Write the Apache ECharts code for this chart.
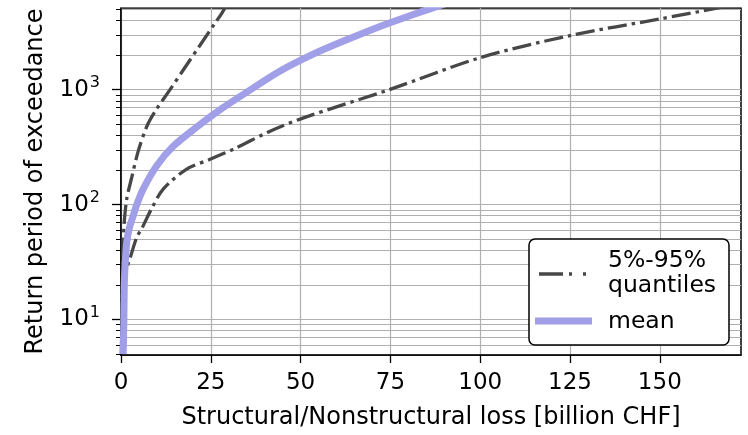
<!DOCTYPE html>
<html><head><meta charset="utf-8">
<script src="https://cdn.jsdelivr.net/npm/echarts@6/dist/echarts.min.js"></script>
<style>html,body{margin:0;padding:0;background:#fff}#c{width:748px;height:435px}</style>
</head><body><div id="c"></div>
<script>
// ---- data ----
const xTicks = [0, 25, 50, 75, 100, 125, 150];
const yMajorTicks = [10, 100, 1000];
const yMinorTicks = [5, 6, 7, 8, 9, 20, 30, 40, 50, 60, 70, 80, 90, 200, 300, 400, 500, 600, 700, 800, 900, 2000, 3000, 4000, 5000];

const qLowPeriod = [5, 10, 20, 44, 70, 112, 173, 292, 481, 649, 998, 1561, 2441, 3818, 4656, 5569];
const qLowLoss   = [0.1, 0.25, 0.4, 0.6, 0.9, 1.6, 3.0, 4.8, 7.2, 9.5, 13.6, 17.8, 22.0, 26.2, 28.1, 29.5];

const meanPeriod = [5, 10, 19, 28, 47, 62, 80, 100, 137, 217, 323, 473, 684, 998, 1456, 2041, 2723, 3561, 4520, 5062, 5850];
const meanLoss   = [0.6, 0.8, 0.9, 1.1, 1.6, 2.3, 3.4, 4.4, 6.2, 9.9, 14.6, 21.1, 28.0, 36.0, 44.3, 53.5, 62.8, 72.1, 81.4, 86.0, 92.0];

const qHighPeriod = [5, 10, 23, 28, 34, 52, 62, 92, 137, 204, 248, 313, 436, 569, 1012, 1912, 2977, 4151, 5100, 5570];
const qHighLoss   = [0.2, 0.5, 1.1, 1.6, 2.5, 4.4, 5.8, 8.5, 11.8, 18.3, 24.8, 32.2, 41.5, 50.8, 75.1, 100.2, 125.3, 150.3, 165.5, 172.0];

const legendQuantiles = ['5%-95%', 'quantiles'];
const legendMean = 'mean';
const xTitle = 'Structural/Nonstructural loss [billion CHF]';
const yTitle = 'Return period of exceedance';

// ---- chart ----
const FONT = 'DejaVu Sans';
const GRID_COLOR = '#b0b0b0';
const Q_COLOR = '#474747';
const MEAN_COLOR = '#a09fe8';
const pairs = (xs, ys) => xs.map((x, i) => [x, ys[i]]);

const chart = echarts.init(document.getElementById('c'), null, {renderer: 'canvas'});
const yMin = 4.9, yMax = 5150;

chart.setOption({
  animation: false,
  backgroundColor: '#fff',
  grid: {left: 121, right: 7, top: 8, bottom: 77.5, show: true, borderColor: '#000', borderWidth: 1.5, backgroundColor: 'transparent'},
  xAxis: {
    type: 'value', min: 0, max: 172.6,
    name: xTitle, nameLocation: 'middle', nameGap: 51,
    nameTextStyle: {fontFamily: FONT, fontSize: 24, color: '#000'},
    axisLine: {show: true, onZero: false, lineStyle: {color: '#000', width: 1.5}},
    axisTick: {show: true, length: 8, customValues: xTicks, lineStyle: {color: '#000', width: 1.3}},
    axisLabel: {show: true, customValues: xTicks, margin: 17, fontFamily: FONT, fontSize: 23, color: '#000'},
    splitLine: {show: true, lineStyle: {color: GRID_COLOR, width: 1.2}}
  },
  yAxis: [{
    type: 'log', logBase: 10, min: yMin, max: yMax,
    name: yTitle, nameLocation: 'middle', nameGap: 73, nameRotate: 90,
    nameTextStyle: {fontFamily: FONT, fontSize: 24, color: '#000'},
    axisLine: {show: true, lineStyle: {color: '#000', width: 1.5}},
    axisTick: {show: true, length: 9, customValues: yMajorTicks, lineStyle: {color: '#000', width: 1.3}},
    axisLabel: {
      show: true, customValues: yMajorTicks, margin: 21,
      formatter: v => '{b|10}{s|' + Math.round(Math.log10(v)) + '}',
      rich: {
        b: {fontFamily: FONT, fontSize: 23, color: '#000'},
        s: {fontFamily: FONT, fontSize: 16, color: '#000', padding: [0, 0, 14, 1]}
      }
    },
    splitLine: {show: true, lineStyle: {color: GRID_COLOR, width: 1.2}}
  }, {
    type: 'log', logBase: 10, min: yMin, max: yMax, position: 'left',
    axisLine: {show: false},
    axisTick: {show: true, length: 5, customValues: yMinorTicks, lineStyle: {color: '#000', width: 1}},
    axisLabel: {show: false},
    splitLine: {show: true, lineStyle: {color: GRID_COLOR, width: 1.2}}
  }],
  series: [{
    type: 'line', name: 'q05', yAxisIndex: 0, data: pairs(qLowLoss, qLowPeriod),
    symbol: 'none', smooth: 0.3, clip: true,
    lineStyle: {color: Q_COLOR, width: 3.3, type: [19, 5, 3.5, 5], cap: 'butt'}, z: 3
  }, {
    type: 'line', name: 'q95', yAxisIndex: 0, data: pairs(qHighLoss, qHighPeriod),
    symbol: 'none', smooth: 0.3, clip: true,
    lineStyle: {color: Q_COLOR, width: 3.3, type: [19, 5, 3.5, 5], cap: 'butt'}, z: 3
  }, {
    type: 'line', name: 'mean', yAxisIndex: 0, data: pairs(meanLoss, meanPeriod),
    symbol: 'none', smooth: 0.3, clip: true,
    lineStyle: {color: MEAN_COLOR, width: 7}, z: 4
  }],
  graphic: [
    // mask the few pixels that the thick lines spill above the plot frame
    {type: 'rect', z: 90, silent: true, shape: {x: 119, y: 0, width: 629, height: 7.2},
     style: {fill: '#fff'}},
    {type: 'rect', z: 100, shape: {x: 529, y: 239, width: 200, height: 106, r: 6},
     style: {fill: '#fff', stroke: '#000', lineWidth: 1.5}},
    {type: 'polyline', z: 101, shape: {points: [[539, 274], [588, 274]]},
     style: {stroke: Q_COLOR, lineWidth: 3.5, lineDash: [24, 6, 3, 11, 3, 100], fill: null}},
    {type: 'line', z: 101, shape: {x1: 535, y1: 321, x2: 592, y2: 321},
     style: {stroke: MEAN_COLOR, lineWidth: 7}},
    {type: 'text', z: 101, x: 608, y: 261,
     style: {text: legendQuantiles[0], font: '23.5px "DejaVu Sans"', fill: '#000', verticalAlign: 'middle'}},
    {type: 'text', z: 101, x: 608, y: 286,
     style: {text: legendQuantiles[1], font: '23.5px "DejaVu Sans"', fill: '#000', verticalAlign: 'middle'}},
    {type: 'text', z: 101, x: 608, y: 322,
     style: {text: legendMean, font: '23.5px "DejaVu Sans"', fill: '#000', verticalAlign: 'middle'}}
  ]
});
</script>
</body></html>
